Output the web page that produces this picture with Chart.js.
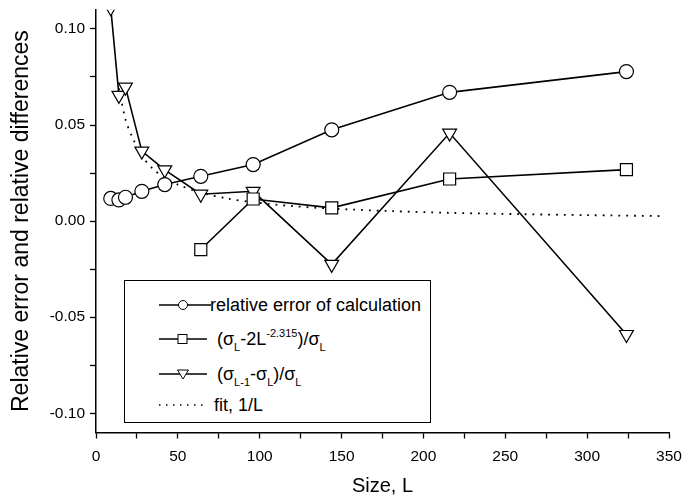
<!DOCTYPE html>
<html>
<head>
<meta charset="utf-8">
<script src="https://cdn.jsdelivr.net/npm/chart.js@4/dist/chart.umd.min.js"></script>
<style>
  body { margin: 0; background: #fff; }
  #wrap { position: relative; width: 682px; height: 499px; }
  #legend {
    position: absolute; left: 124px; top: 280px; width: 307px; height: 143px;
    box-sizing: border-box; border: 1.3px solid #000; background: #fff;
    font-family: "Liberation Sans", Arial, sans-serif; font-size: 18px; color: #000;
  }
  .row { position: absolute; left: 0; height: 24px; line-height: 24px; white-space: nowrap; }
  .row svg { position: absolute; left: 34px; top: 2px; }
  .row .txt { position: absolute; top: 0; }
  .sub { font-size: 11px; position: relative; top: 6px; }
  .sup { font-size: 11px; position: relative; top: -8px; }
</style>
</head>
<body>
<div id="wrap">
  <canvas id="chart"></canvas>
  <div id="legend">
    <div class="row" style="top:12px">
      <svg width="52" height="20"><line x1="0" y1="10" x2="52" y2="10" stroke="#000" stroke-width="1.5"/><circle cx="24" cy="10" r="4.5" fill="#fff" stroke="#000" stroke-width="1"/></svg>
      <span class="txt" style="left:85px">relative error of calculation</span>
    </div>
    <div class="row" style="top:46px">
      <svg width="48" height="20"><line x1="0" y1="10" x2="48" y2="10" stroke="#000" stroke-width="1.5"/><rect x="19" y="5.5" width="9" height="9" fill="#fff" stroke="#000" stroke-width="1"/></svg>
      <span class="txt" style="left:92px">(σ<span class="sub">L</span>-2L<span class="sup">-2.315</span>)/σ<span class="sub">L</span></span>
    </div>
    <div class="row" style="top:81px">
      <svg width="48" height="20"><line x1="0" y1="10" x2="48" y2="10" stroke="#000" stroke-width="1.5"/><polygon points="18.5,6 29.5,6 24,15" fill="#fff" stroke="#000" stroke-width="1"/></svg>
      <span class="txt" style="left:92px">(σ<span class="sub">L-1</span>-σ<span class="sub">L</span>)/σ<span class="sub">L</span></span>
    </div>
    <div class="row" style="top:112px">
      <svg width="48" height="20"><line x1="0" y1="10" x2="48" y2="10" stroke="#000" stroke-width="1.5" stroke-dasharray="1.5 5.5"/></svg>
      <span class="txt" style="left:89px">fit, 1/L</span>
    </div>
  </div>
</div>
<script>
// values
const sizeL = [9, 14, 18, 28, 42, 64, 96, 144, 216, 324];
const relError = [0.0118, 0.011, 0.0124, 0.0155, 0.019, 0.0233, 0.0294, 0.0475, 0.067, 0.0778];
const triDiff = [0.111, 0.0654, 0.0697, 0.0364, 0.0267, 0.014, 0.0155, -0.0225, 0.0458, -0.059];

const sqSizeL = [64, 96, 144, 216, 324];
const sqDiff = [-0.0148, 0.0115, 0.0069, 0.0219, 0.0268];

const fitL = [14, 18, 22, 28, 35, 42, 50, 64, 80, 96, 120, 144, 180, 216, 260, 300, 347];
const fitV = [0.069, 0.053, 0.044, 0.034, 0.027, 0.0225, 0.019, 0.0148, 0.0118, 0.0098, 0.0078, 0.0065, 0.0052, 0.0043, 0.0036, 0.0031, 0.0026];

const xTicks = [0, 25, 50, 75, 100, 125, 150, 175, 200, 225, 250, 275, 300, 325, 350];
const yTicks = [-0.1, -0.075, -0.05, -0.025, 0, 0.025, 0.05, 0.075, 0.1];

const FONT = "'Liberation Sans', Arial, sans-serif";

function pts(xs, ys) {
  return xs.map((x, i) => ({ x: x, y: ys[i] }));
}

const markerSeries = {
  borderColor: "#000",
  borderWidth: 1.6,
  pointBackgroundColor: "#fff",
  pointBorderColor: "#000",
  pointBorderWidth: 1.2,
  tension: 0,
  fill: false,
};

new Chart(document.getElementById("chart"), {
  type: "line",
  data: {
    datasets: [
      {
        label: "fit, 1/L",
        data: pts(fitL, fitV),
        borderColor: "#000",
        borderWidth: 1.8,
        borderDash: [1.8, 6],
        pointRadius: 0,
        tension: 0.3,
        fill: false,
        order: 4,
      },
      {
        ...markerSeries,
        label: "(σL-σL-1)/σL",
        data: pts(sizeL, triDiff),
        pointStyle: "triangle",
        rotation: 180,
        pointRadius: 8,
        order: 3,
      },
      {
        ...markerSeries,
        label: "(σL-2L^-2.315)/σL",
        data: pts(sqSizeL, sqDiff),
        pointStyle: "rect",
        pointRadius: 8.5,
        order: 2,
      },
      {
        ...markerSeries,
        label: "relative error of calculation",
        data: pts(sizeL, relError),
        pointStyle: "circle",
        pointRadius: 7,
        order: 1,
      },
    ],
  },
  options: {
    responsive: true,
    maintainAspectRatio: false,
    animation: false,
    layout: { padding: { top: 8.5, right: 13, bottom: 0, left: 0 } },
    plugins: {
      legend: { display: false },
      tooltip: { enabled: false },
    },
    scales: {
      x: {
        type: "linear",
        min: 0,
        max: 350,
        afterBuildTicks: (scale) => {
          scale.ticks = xTicks.map((v) => ({ value: v }));
        },
        afterFit: (scale) => {
          scale.height = 66.5;
          scale.paddingLeft = 0;
          scale.paddingRight = 0;
        },
        ticks: {
          color: "#000",
          font: { family: FONT, size: 15.5 },
          padding: 9,
          maxRotation: 0,
          autoSkip: false,
          callback: (v) => (v % 50 === 0 ? String(v) : ""),
        },
        grid: {
          drawOnChartArea: false,
          drawTicks: true,
          tickLength: 6,
          tickColor: "#000",
          tickWidth: 1.3,
        },
        border: { display: true, color: "#000", width: 1.5 },
        title: {
          display: true,
          text: "Size, L",
          color: "#000",
          font: { family: FONT, size: 20 },
          padding: { top: 4, bottom: 1 },
        },
      },
      y: {
        type: "linear",
        min: -0.11,
        max: 0.11,
        afterBuildTicks: (scale) => {
          scale.ticks = yTicks.map((v) => ({ value: v }));
        },
        afterFit: (scale) => {
          scale.width = 96;
          scale.paddingTop = 0;
          scale.paddingBottom = 0;
        },
        ticks: {
          color: "#000",
          font: { family: FONT, size: 15.5 },
          padding: 5,
          autoSkip: false,
          callback: (v) => {
            const k = v * 20;
            return Math.abs(k - Math.round(k)) < 1e-6 ? v.toFixed(2) : "";
          },
        },
        grid: {
          drawOnChartArea: false,
          drawTicks: true,
          tickLength: 6,
          tickColor: "#000",
          tickWidth: 1.3,
        },
        border: { display: true, color: "#000", width: 1.5 },
        title: {
          display: true,
          text: "Relative error and relative differences",
          color: "#000",
          font: { family: FONT, size: 23 },
          padding: { top: 8, bottom: 4 },
        },
      },
    },
  },
});
</script>
</body>
</html>
